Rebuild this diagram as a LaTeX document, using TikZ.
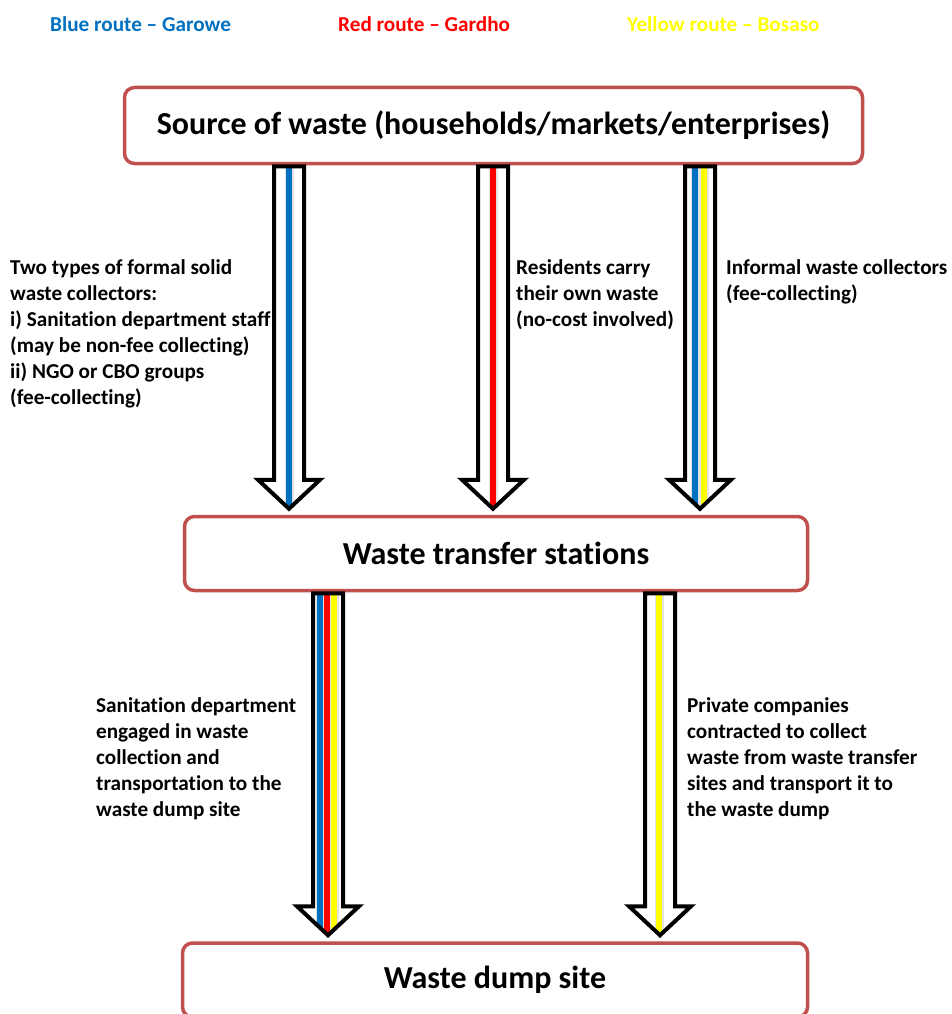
\documentclass[tikz,border=0pt]{standalone}
\usepackage{fontspec}
\setmainfont{Carlito}[Ligatures=NoCommon]
\usetikzlibrary{calc}

\definecolor{routeblue}{HTML}{0070C0}
\definecolor{routered}{HTML}{FF0000}
\definecolor{routeyellow}{HTML}{FFFF00}
\definecolor{boxred}{HTML}{C0504D}

\tikzset{
  stagebox/.style={draw=boxred, line width=3.5pt, rounded corners=10pt, fill=white,
    inner sep=0pt, font=\fontsize{32}{36}\selectfont\bfseries},
  sidenote/.style={anchor=north west, inner sep=0pt, align=left,
    font=\fontsize{21.2}{26}\selectfont\bfseries},
  legend/.style={anchor=west, inner sep=0pt, font=\fontsize{21.2}{24}\selectfont\bfseries},
  arrowline/.style={draw=black, line width=4pt, line join=miter},
}

% hollow arrow at x=#1 from node #2 down to node #3, stripes #4 as offset/colour
\newcommand\routearrow[4]{%
  \path[save path=\arrowpath] let \p1=(#2.south), \p2=(#3.north) in
    (#1pt-15pt,\y1-1pt) -- (#1pt-15pt,\y2+35pt) -- (#1pt-31pt,\y2+35pt) --
    (#1pt,\y2+6pt) -- (#1pt+31pt,\y2+35pt) -- (#1pt+15pt,\y2+35pt) --
    (#1pt+15pt,\y1-1pt) -- cycle;
  \path let \p1=(#2.south), \p2=(#3.north) in
    coordinate (arrtop) at (#1pt,\y1) coordinate (arrtip) at (#1pt,\y2);
  \fill[white, use path=\arrowpath];
  \begin{scope}
    \clip[use path=\arrowpath];
    \foreach \dx/\c in {#4}{
      \fill[gray!22] ($(arrtop)+(\dx pt-4.5pt,0)$) rectangle ($(arrtip)+(\dx pt+4.5pt,0)$);
    }
    \foreach \dx/\c in {#4}{
      \fill[\c] ($(arrtop)+(\dx pt-2.7pt,0)$) rectangle ($(arrtip)+(\dx pt+2.7pt,0)$);
    }
  \end{scope}
  \draw[arrowline, use path=\arrowpath];
}

\begin{document}
\begin{tikzpicture}[x=1pt, y=-1pt]
\useasboundingbox (0,0) rectangle (951,1014);

% legend
\node[legend, text=routeblue] (legblue) at (50,24) {Blue route -- Garowe};
\node[legend, text=routered] (legred) at (338,24) {Red route -- Gardho};
\node[legend, text=routeyellow] (legyellow) at (627,24) {Yellow route -- Bosaso};

% stages
\node[stagebox, minimum width=738pt, minimum height=76pt] (src) at (493.5,125.5)
  {Source of waste (households/markets/enterprises)};
\node[stagebox, minimum width=623pt, minimum height=74pt] (wts) at (496,553.5)
  {Waste transfer stations};
\node[stagebox, minimum width=625pt, minimum height=74pt] (dump) at (495,980)
  {Waste dump site};

% routes
\routearrow{289}{src}{wts}{0/routeblue}
\routearrow{493}{src}{wts}{0/routered}
\routearrow{700}{src}{wts}{-5/routeblue, 4/routeyellow}
\routearrow{328}{wts}{dump}{-8/routeblue, -1/routered, 6/routeyellow}
\routearrow{660}{wts}{dump}{-1/routeyellow}

% notes
\node[sidenote] (formal) at (10,259) {Two types of formal solid\\waste collectors:\\
  i) Sanitation department staff\\(may be non-fee collecting)\\ii) NGO or CBO groups\\(fee-collecting)};
\node[sidenote] (residents) at (516,259) {Residents carry\\their own waste\\(no-cost involved)};
\node[sidenote] (informal) at (726,259) {Informal waste collectors\\(fee-collecting)};
\node[sidenote] (sanitation) at (96,697) {Sanitation department\\engaged in waste\\
  collection and\\transportation to the\\waste dump site};
\node[sidenote] (private) at (687,697) {Private companies\\contracted to collect\\
  waste from waste transfer\\sites and transport it to\\the waste dump};
\end{tikzpicture}
\end{document}
